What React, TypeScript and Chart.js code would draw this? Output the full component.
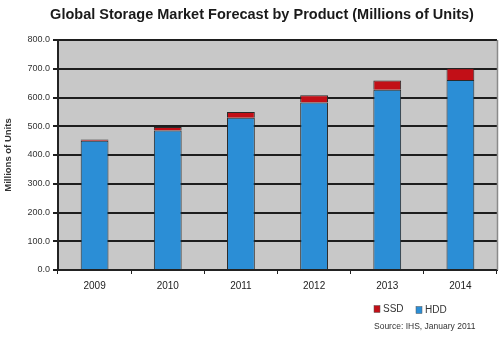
import React, { useEffect, useRef } from "react";
import { Chart, registerables } from "chart.js";

Chart.register(...registerables);

const years = ["2009", "2010", "2011", "2012", "2013", "2014"];
const hddValues = [450, 485, 530, 583, 627, 661];
const ssdValues = [4, 12, 20, 25, 32, 41];
const titleText = "Global Storage Market Forecast by Product (Millions of Units)";
const yAxisTitle = "Millions of Units";
const sourceText = "Source: IHS, January 2011";

const FONT = "'Liberation Sans', Arial, Helvetica, sans-serif";
const HDD_COLOR = "#2b8ed6";
const SSD_COLOR = "#c20f17";

const decorPlugin = {
  id: "decor",
  beforeDraw(chart: any) {
    const { ctx, chartArea } = chart;
    ctx.save();
    ctx.fillStyle = "#ffffff";
    ctx.fillRect(0, 0, chart.width, chart.height);
    ctx.fillStyle = "#c8c8c8";
    ctx.fillRect(chartArea.left, chartArea.top, chartArea.right - chartArea.left, chartArea.bottom - chartArea.top);
    ctx.restore();
  },
  afterDraw(chart: any) {
    const { ctx, chartArea } = chart;
    ctx.save();
    // right border
    ctx.strokeStyle = "#8a8a8a";
    ctx.lineWidth = 1.5;
    ctx.beginPath();
    ctx.moveTo(chartArea.right + 0.5, chartArea.top);
    ctx.lineTo(chartArea.right + 0.5, chartArea.bottom);
    ctx.stroke();

    // title
    ctx.fillStyle = "#1a1a1a";
    ctx.font = `bold 14.5px ${FONT}`;
    ctx.textAlign = "center";
    ctx.textBaseline = "middle";
    ctx.fillText(titleText, 262, 15);

    // y axis title
    ctx.save();
    ctx.translate(8, (chartArea.top + chartArea.bottom) / 2);
    ctx.rotate(-Math.PI / 2);
    ctx.font = `bold 9.5px ${FONT}`;
    ctx.fillStyle = "#333";
    ctx.fillText(yAxisTitle, 0, 0);
    ctx.restore();

    // legend
    const items = [
      { label: "SSD", color: SSD_COLOR, x: 374, y: 309 },
      { label: "HDD", color: HDD_COLOR, x: 416, y: 310 },
    ];
    ctx.font = `10px ${FONT}`;
    ctx.textAlign = "left";
    items.forEach((it) => {
      ctx.fillStyle = it.color;
      ctx.fillRect(it.x, it.y - 3.5, 6, 7);
      ctx.strokeStyle = "#555";
      ctx.lineWidth = 0.5;
      ctx.strokeRect(it.x, it.y - 3.5, 6, 7);
      ctx.fillStyle = "#333";
      ctx.fillText(it.label, it.x + 9, it.y);
    });

    // source
    ctx.font = `8.5px ${FONT}`;
    ctx.fillStyle = "#333";
    ctx.fillText(sourceText, 374, 327);
    ctx.restore();
  },
};

export default function App() {
  const canvasRef = useRef<HTMLCanvasElement>(null);

  useEffect(() => {
    if (!canvasRef.current) return;
    const chart = new Chart(canvasRef.current, {
      type: "bar",
      data: {
        labels: years,
        datasets: [
          {
            label: "HDD",
            data: hddValues,
            backgroundColor: HDD_COLOR,
            borderColor: "#2a2a2a",
            borderWidth: 1,
            barPercentage: 0.38,
            categoryPercentage: 1,
          },
          {
            label: "SSD",
            data: ssdValues,
            backgroundColor: SSD_COLOR,
            borderColor: "#2a2a2a",
            borderWidth: 1,
            barPercentage: 0.38,
            categoryPercentage: 1,
          },
        ],
      },
      options: {
        responsive: false,
        animation: false,
        layout: { padding: { top: 40, left: 0, right: 3, bottom: 44 } },
        plugins: {
          legend: { display: false },
          title: { display: false },
          tooltip: { enabled: false },
        },
        scales: {
          x: {
            stacked: true,
            afterFit: (scale: any) => {
              scale.height = 28;
            },
            grid: {
              drawOnChartArea: false,
              drawTicks: true,
              tickLength: 4,
              color: "#222",
              lineWidth: 1,
            },
            border: { display: true, color: "#222", width: 2 },
            ticks: {
              color: "#222",
              font: { family: FONT, size: 10 },
              padding: 6,
            },
          },
          y: {
            stacked: true,
            min: 0,
            max: 800,
            afterFit: (scale: any) => {
              scale.width = 58;
            },
            grid: {
              color: "#1e1e1e",
              lineWidth: 2,
              tickLength: 5,
              drawTicks: true,
            },
            border: { display: true, color: "#222", width: 2 },
            ticks: {
              stepSize: 100,
              color: "#333",
              padding: 3,
              font: { family: FONT, size: 9 },
              callback: (v: any) => Number(v).toFixed(1),
            },
          },
        },
      },
      plugins: [decorPlugin],
    });
    return () => chart.destroy();
  }, []);

  return (
    <div style={{ position: "fixed", left: 0, top: 0, width: 500, height: 342, background: "#fff" }}>
      <canvas ref={canvasRef} width={500} height={342} style={{ display: "block" }} />
    </div>
  );
}
